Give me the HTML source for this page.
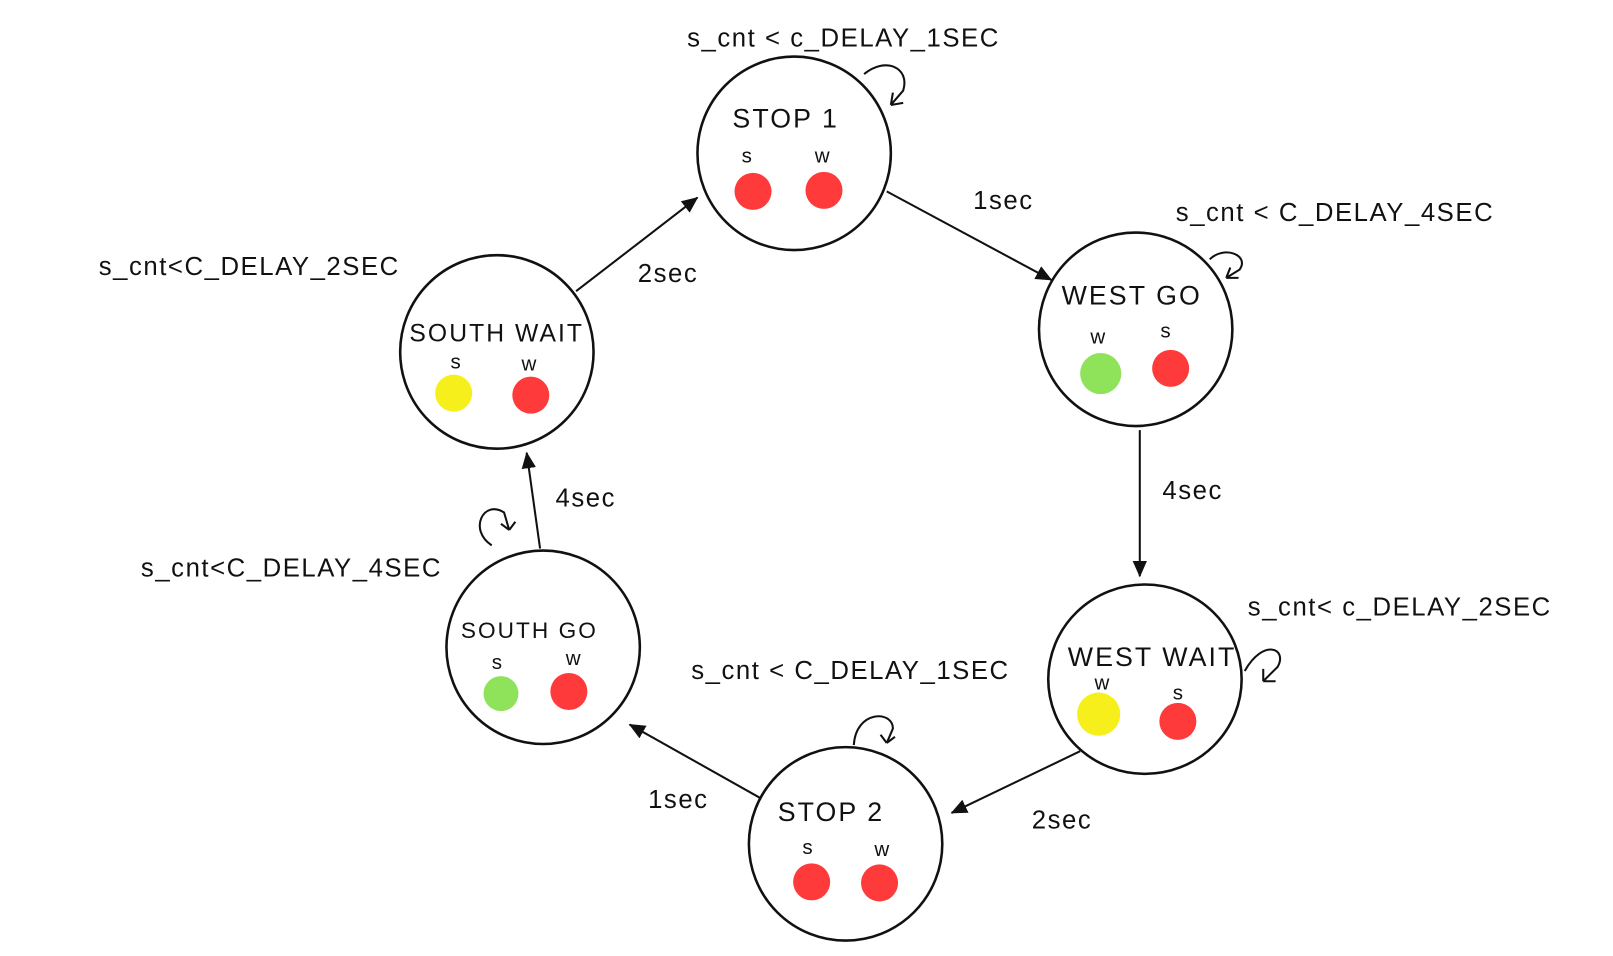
<!DOCTYPE html>
<html><head><style>
html,body{margin:0;padding:0;background:#fff;}
svg{display:block;}
text{font-family:"Liberation Sans",sans-serif;fill:#111;}
</style></head><body>
<svg width="1613" height="956" viewBox="0 0 1568 929" preserveAspectRatio="none" xmlns="http://www.w3.org/2000/svg">
<defs>
<marker id="a" markerWidth="16" markerHeight="14" refX="15" refY="7" orient="auto" markerUnits="userSpaceOnUse">
<path d="M0,0 L16,7 L0,14 z" fill="#111"/></marker>
</defs>
<rect width="1568" height="929" fill="#fff"/>
<g fill="none" stroke="#111" stroke-width="2.5">
<ellipse cx="772" cy="149" rx="94" ry="94"/>
<ellipse cx="1104" cy="320" rx="94" ry="94"/>
<ellipse cx="1113" cy="660" rx="94" ry="92"/>
<ellipse cx="822" cy="820" rx="94" ry="94"/>
<ellipse cx="528" cy="629" rx="94" ry="94"/>
<ellipse cx="483" cy="342" rx="94" ry="94"/>
</g>
<g stroke="#111" stroke-width="2" fill="none">
<line x1="862" y1="186" x2="1022" y2="272" marker-end="url(#a)"/>
<line x1="1108" y1="418" x2="1108" y2="560" marker-end="url(#a)"/>
<line x1="1050" y1="730" x2="925" y2="790" marker-end="url(#a)"/>
<line x1="740" y1="776" x2="612" y2="704" marker-end="url(#a)"/>
<line x1="525" y1="533" x2="512" y2="440" marker-end="url(#a)"/>
<line x1="560" y1="283" x2="678" y2="192" marker-end="url(#a)"/>
<path d="M840,72 C860,55 885,65 878,88 L866,102 M866,102 l2,-12 M866,102 l12,-2"/>
<path d="M1176,252 C1190,238 1215,248 1205,262 L1192,270 M1192,270 l4,-10 M1192,270 l12,0"/>
<path d="M1210,652 C1228,620 1252,630 1242,648 L1228,662 M1228,662 l0,-12 M1228,662 l12,0"/>
<path d="M830,724 C832,690 868,690 868,708 L862,722 M862,722 l-6,-8 M862,722 l8,-6"/>
<path d="M478,530 C455,515 470,485 490,498 L495,515 M495,515 l-8,-6 M495,515 l6,-8"/>
</g>
<g fill="#ff3a3a">
<circle cx="732" cy="186" r="18"/><circle cx="801" cy="185" r="18"/>
<circle cx="1138" cy="358" r="18"/>
<circle cx="1145" cy="701" r="18"/>
<circle cx="789" cy="857" r="18"/><circle cx="855" cy="858" r="18"/>
<circle cx="553" cy="672" r="18"/>
<circle cx="516" cy="384" r="18"/>
</g>
<circle cx="1070" cy="363" r="20" fill="#8ee35a"/>
<circle cx="487" cy="674" r="17" fill="#8ee35a"/>
<circle cx="1068" cy="694" r="21" fill="#f7ef1c"/>
<circle cx="441" cy="382" r="18" fill="#f7ef1c"/>
<g font-size="26" letter-spacing="2">
<text x="712" y="124">STOP 1</text>
<text x="1032" y="296">WEST GO</text>
<text x="1038" y="647">WEST WAIT</text>
<text x="756" y="798">STOP 2</text>
<text x="448" y="620" font-size="22">SOUTH GO</text>
<text x="398" y="332" font-size="24">SOUTH WAIT</text>
</g>
<g font-size="20">
<text x="721" y="158">s</text><text x="792" y="158">w</text>
<text x="1060" y="334">w</text><text x="1128" y="328">s</text>
<text x="1064" y="670">w</text><text x="1140" y="680">s</text>
<text x="780" y="830">s</text><text x="850" y="832">w</text>
<text x="478" y="650">s</text><text x="550" y="646">w</text>
<text x="438" y="358">s</text><text x="507" y="360">w</text>
</g>
<g font-size="25" letter-spacing="1.5">
<text x="668" y="45">s_cnt &lt; c_DELAY_1SEC</text>
<text x="1143" y="215">s_cnt &lt; C_DELAY_4SEC</text>
<text x="1213" y="598">s_cnt&lt; c_DELAY_2SEC</text>
<text x="672" y="660">s_cnt &lt; C_DELAY_1SEC</text>
<text x="137" y="560">s_cnt&lt;C_DELAY_4SEC</text>
<text x="96" y="267">s_cnt&lt;C_DELAY_2SEC</text>
<text x="946" y="203">1sec</text>
<text x="1130" y="485">4sec</text>
<text x="1003" y="805">2sec</text>
<text x="630" y="785">1sec</text>
<text x="540" y="492">4sec</text>
<text x="620" y="274">2sec</text>
</g>
</svg>
</body></html>
